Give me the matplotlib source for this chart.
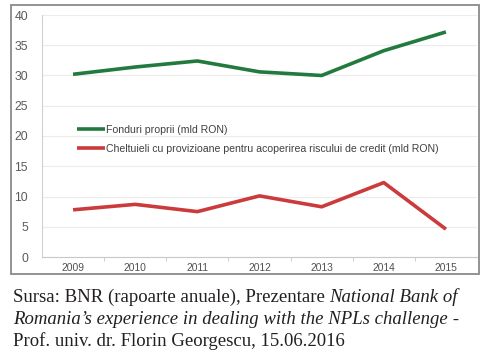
import matplotlib
matplotlib.use("Agg")
import matplotlib.pyplot as plt
from matplotlib.patches import Rectangle

years = ["2009", "2010", "2011", "2012", "2013", "2014", "2015"]
fonduri_proprii = [30.2, 31.4, 32.4, 30.6, 30.0, 34.1, 37.2]
cheltuieli_provizioane = [7.8, 8.7, 7.5, 10.1, 8.3, 12.3, 4.6]
label_fonduri = "Fonduri proprii (mld RON)"
label_cheltuieli = "Cheltuieli cu provizioane pentru acoperirea riscului de credit (mld RON)"
yticks = [0, 5, 10, 15, 20, 25, 30, 35, 40]

GREEN = "#237a3e"
RED = "#cc3b3b"

fig = plt.figure(figsize=(4.88, 3.55), dpi=100)
W, H = 488, 355

# outer frame around the chart
fig.patches.append(Rectangle((11 / W, 1 - 274 / H), 468 / W, 269 / H,
                             transform=fig.transFigure, fill=False,
                             edgecolor="#8a8a8a", linewidth=1.3))

ax = fig.add_axes([42 / W, 1 - 257 / H, 435 / W, 242 / H])
x = list(range(len(years)))
ax.plot(x, fonduri_proprii, color=GREEN, linewidth=2.6, label=label_fonduri,
        solid_capstyle="butt")
ax.plot(x, cheltuieli_provizioane, color=RED, linewidth=2.6, label=label_cheltuieli,
        solid_capstyle="butt")

ax.set_xlim(-0.5, len(years) - 0.5)
ax.set_ylim(0, 40)
ax.set_yticks(yticks)
ax.set_yticklabels([str(v) for v in yticks], fontsize=8.8, color="#5a5a5a",
                   family="Liberation Sans")
ax.set_xticks(x)
ax.set_xticklabels(years, fontsize=7.4, color="#505050", family="Liberation Sans")
ax.set_xticks([i + 0.5 for i in x[:-1]], minor=True)
ax.tick_params(axis="y", length=0, pad=10)
ax.tick_params(axis="x", which="major", length=0, pad=4)
ax.tick_params(axis="x", which="minor", length=3, color="#c8c8c8", direction="out")
ax.grid(axis="y", color="#ececec", linewidth=0.8)
ax.set_axisbelow(True)
for s in ["top", "right"]:
    ax.spines[s].set_visible(False)
ax.spines["left"].set_color("#d0d0d0")
ax.spines["bottom"].set_color("#c8c8c8")

leg = ax.legend(loc="upper left", bbox_to_anchor=(0.071, 0.564), frameon=False,
                handlelength=2.6, handletextpad=0.1, labelspacing=0.85,
                prop={"family": "Liberation Sans", "size": 7.6}, borderaxespad=0)
for t in leg.get_texts():
    t.set_color("#404040")

# caption with mixed regular / italic pieces
lines = [
    [("Sursa: BNR (rapoarte anuale), Prezentare ", "normal"), ("National Bank of", "italic")],
    [("Romania\u2019s experience in dealing with the NPLs challenge", "italic"), (" -", "normal")],
    [("Prof. univ. dr. Florin Georgescu, 15.06.2016", "normal")],
]
baselines = [302, 324, 346]
renderer = fig.canvas.get_renderer()
for pieces, yb in zip(lines, baselines):
    xpos = 13 / W
    for txt, style in pieces:
        t = fig.text(xpos, 1 - yb / H, txt, fontsize=13.5, family="Liberation Serif",
                     style=style, color="#231f20", va="baseline", ha="left")
        bb = t.get_window_extent(renderer=renderer)
        xpos += bb.width / W

fig.savefig("out.png", dpi=100)
